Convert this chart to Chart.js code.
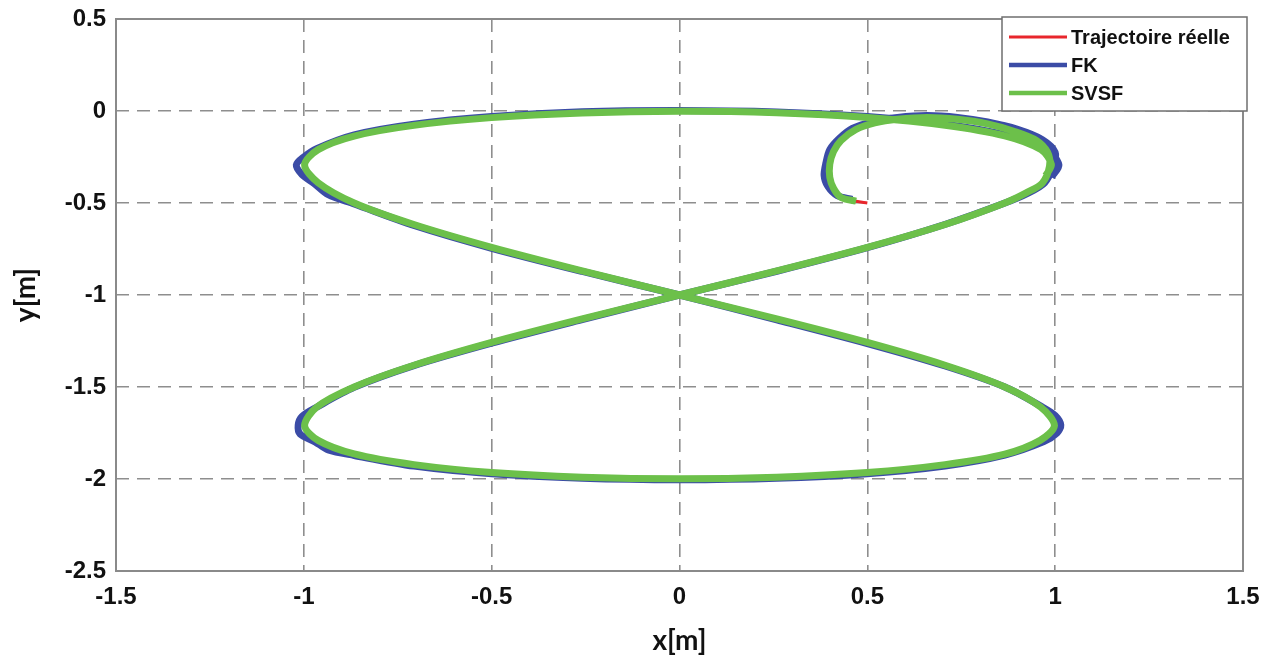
<!DOCTYPE html>
<html>
<head>
<meta charset="utf-8">
<title>Trajectoire en huit - FK / SVSF</title>
<script src="https://cdn.jsdelivr.net/npm/chart.js@4.4.1/dist/chart.umd.min.js"></script>
<style>
  html, body { margin: 0; padding: 0; background: #fff; }
  canvas { display: block; }
</style>
</head>
<body>
<canvas id="traj" width="1271" height="662"></canvas>
<script>
// séries et couleurs
const seriesNames = ["Trajectoire réelle", "FK", "SVSF"];
const seriesColors = ["#e8262c", "#3b4ca6", "#6cc04a"];

// graduations
const xTicks = [-1.5, -1, -0.5, 0, 0.5, 1, 1.5];
const xTickLabels = ["-1.5", "-1", "-0.5", "0", "0.5", "1", "1.5"];
const yTicks = [0.5, 0, -0.5, -1, -1.5, -2, -2.5];
const yTickLabels = ["0.5", "0", "-0.5", "-1", "-1.5", "-2", "-2.5"];

// trajectoire réelle [x, y]
const realPath = [
  [0.5, -0.5], [0.47, -0.49], [0.43, -0.47], [0.41, -0.42], [0.40, -0.36], [0.40, -0.29],
  [0.41, -0.22], [0.43, -0.16], [0.47, -0.10], [0.52, -0.065], [0.58, -0.045], [0.66, -0.035],
  [0.74, -0.045], [0.82, -0.07], [0.89, -0.11], [0.95, -0.16], [0.98, -0.225], [0.985, -0.30],
  [0.966, -0.391], [0.924, -0.444],
  [0.866, -0.5], [0.707, -0.617], [0.5, -0.741], [0.259, -0.869], [0, -1],
  [-0.259, -1.131], [-0.5, -1.259], [-0.707, -1.383], [-0.866, -1.5], [-0.966, -1.609],
  [-1, -1.707], [-0.966, -1.793], [-0.866, -1.866], [-0.707, -1.924], [-0.5, -1.966],
  [-0.259, -1.991], [0, -2], [0.259, -1.991], [0.5, -1.966], [0.707, -1.924],
  [0.866, -1.866], [0.966, -1.793], [1, -1.707], [0.966, -1.609], [0.866, -1.5],
  [0.707, -1.383], [0.5, -1.259], [0.259, -1.131], [0, -1], [-0.259, -0.869],
  [-0.5, -0.741], [-0.707, -0.617], [-0.866, -0.5], [-0.966, -0.391], [-1, -0.293],
  [-0.966, -0.207], [-0.866, -0.134], [-0.707, -0.076], [-0.5, -0.034], [-0.259, -0.009],
  [0, 0], [0.259, -0.009], [0.5, -0.034], [0.707, -0.076], [0.866, -0.134],
  [0.966, -0.207], [1, -0.293], [0.985, -0.36]
];

// estimation FK [x, y]
const fkPath = [
  [0.46, -0.48], [0.42, -0.46], [0.395, -0.41], [0.385, -0.35], [0.39, -0.28],
  [0.40, -0.21], [0.425, -0.15], [0.46, -0.095], [0.52, -0.055], [0.58, -0.035], [0.66, -0.025],
  [0.74, -0.035], [0.82, -0.06], [0.90, -0.10], [0.965, -0.155], [1.0, -0.225], [0.995, -0.30],
  [0.972, -0.39], [0.928, -0.446],
  [0.866, -0.5], [0.71, -0.614], [0.5, -0.743], [0.259, -0.871], [0, -1],
  [-0.259, -1.134], [-0.5, -1.262], [-0.707, -1.384], [-0.866, -1.502], [-0.966, -1.61],
  [-1.005, -1.66], [-1.015, -1.707], [-1.01, -1.755], [-0.97, -1.798], [-0.935, -1.842],
  [-0.866, -1.872], [-0.707, -1.93], [-0.5, -1.972], [-0.259, -1.996], [0, -2.004],
  [0.259, -1.996], [0.5, -1.971], [0.707, -1.929], [0.866, -1.87], [0.97, -1.797],
  [1.005, -1.75], [1.015, -1.707], [1.0, -1.655], [0.966, -1.609], [0.866, -1.5],
  [0.707, -1.386], [0.5, -1.264], [0.259, -1.135], [0, -1], [-0.259, -0.872],
  [-0.5, -0.746], [-0.707, -0.622], [-0.866, -0.505], [-0.935, -0.455], [-0.972, -0.395],
  [-1.005, -0.345], [-1.02, -0.293], [-1.0, -0.25], [-0.966, -0.205], [-0.866, -0.13],
  [-0.707, -0.072], [-0.5, -0.03], [-0.259, -0.004], [0, 0.003], [0.259, -0.005],
  [0.5, -0.03], [0.707, -0.072], [0.866, -0.13], [0.975, -0.205], [1.01, -0.293], [0.99, -0.36]
];

// estimation SVSF [x, y]
const svsfPath = [
  [0.47, -0.49], [0.43, -0.47], [0.41, -0.42], [0.40, -0.36], [0.40, -0.29],
  [0.41, -0.22], [0.43, -0.16], [0.47, -0.10], [0.52, -0.065], [0.58, -0.045], [0.66, -0.035],
  [0.74, -0.045], [0.82, -0.07], [0.89, -0.11], [0.95, -0.16], [0.98, -0.225], [0.985, -0.30],
  [0.966, -0.391], [0.924, -0.444],
  [0.866, -0.5], [0.707, -0.617], [0.5, -0.741], [0.259, -0.869], [0, -1],
  [-0.259, -1.13], [-0.5, -1.258], [-0.707, -1.382], [-0.866, -1.5], [-0.966, -1.61],
  [-0.998, -1.71], [-0.962, -1.79], [-0.866, -1.864], [-0.707, -1.922], [-0.5, -1.965],
  [-0.259, -1.99], [0, -1.999], [0.259, -1.99], [0.5, -1.965], [0.707, -1.922],
  [0.866, -1.865], [0.96, -1.79], [0.998, -1.71], [0.962, -1.61], [0.866, -1.5],
  [0.707, -1.382], [0.5, -1.258], [0.259, -1.13], [0, -1], [-0.259, -0.869],
  [-0.5, -0.741], [-0.707, -0.617], [-0.866, -0.5], [-0.962, -0.39], [-0.998, -0.293],
  [-0.962, -0.21], [-0.866, -0.136], [-0.707, -0.078], [-0.5, -0.036], [-0.259, -0.011],
  [0, -0.002], [0.259, -0.01], [0.5, -0.035], [0.707, -0.077], [0.866, -0.135],
  [0.962, -0.21], [0.99, -0.29], [0.975, -0.35]
];

const paths = [realPath, fkPath, svsfPath];
const widths = [3, 7, 7];

const tickFont = { family: '"Liberation Sans", Arial, sans-serif', size: 24, weight: 'bold' };
const titleFont = { family: 'Lato, "Open Sans", sans-serif', size: 28, weight: 'bold' };
const gridColor = '#8e8e8e';

// cadre plein autour de la zone de tracé
const frame = {
  id: 'frame',
  beforeDatasetsDraw(chart) {
    const a = chart.chartArea, ctx = chart.ctx;
    ctx.save();
    ctx.strokeStyle = '#8a8a8a';
    ctx.lineWidth = 2;
    ctx.strokeRect(a.left, a.top, a.right - a.left, a.bottom - a.top);
    ctx.restore();
  }
};

// légende encadrée en haut à droite
const legendBox = {
  id: 'legendBox',
  afterDraw(chart) {
    const ctx = chart.ctx;
    const x0 = 1002, y0 = 17, w = 245, h = 94;
    ctx.save();
    ctx.fillStyle = '#fff';
    ctx.fillRect(x0, y0, w, h);
    ctx.strokeStyle = '#6f6f6f';
    ctx.lineWidth = 1.5;
    ctx.strokeRect(x0, y0, w, h);
    ctx.font = 'bold 20px "Liberation Sans", Arial, sans-serif';
    ctx.textBaseline = 'middle';
    chart.data.datasets.forEach((ds, i) => {
      const y = y0 + 20 + i * 28;
      ctx.strokeStyle = ds.borderColor;
      ctx.lineWidth = i === 0 ? 3 : 4.5;
      ctx.beginPath();
      ctx.moveTo(x0 + 7, y);
      ctx.lineTo(x0 + 65, y);
      ctx.stroke();
      ctx.fillStyle = '#111';
      ctx.fillText(ds.label, x0 + 69, y + 1);
    });
    ctx.restore();
  }
};

const edgeless = (edges) => (c) =>
  (c.tick && edges.includes(c.tick.value)) ? 'rgba(0,0,0,0)' : gridColor;

new Chart(document.getElementById('traj'), {
  type: 'scatter',
  data: {
    datasets: paths.map((p, i) => ({
      label: seriesNames[i],
      data: p.map(([x, y]) => ({ x, y })),
      showLine: true,
      borderColor: seriesColors[i],
      backgroundColor: seriesColors[i],
      borderWidth: widths[i],
      pointRadius: 0,
      tension: 0.3,
      order: 3 - i
    }))
  },
  options: {
    responsive: false,
    animation: false,
    events: [],
    layout: { padding: { top: 19, right: 28, left: 0, bottom: 0 } },
    plugins: { legend: { display: false }, tooltip: { enabled: false } },
    scales: {
      x: {
        type: 'linear',
        min: -1.5, max: 1.5,
        afterBuildTicks: s => { s.ticks = xTicks.map(v => ({ value: v })); },
        afterFit: s => { s.height = 91; s.paddingLeft = 0; s.paddingRight = 0; },
        ticks: {
          padding: 12, color: '#111', font: tickFont,
          callback: v => xTickLabels[xTicks.indexOf(v)]
        },
        grid: { color: edgeless([-1.5, 1.5]), lineWidth: 1.6, drawTicks: false },
        border: { display: false, dash: [13, 8] },
        title: { display: true, text: 'x[m]', color: '#111', font: titleFont, padding: { top: 0, bottom: 4 } }
      },
      y: {
        type: 'linear',
        min: -2.5, max: 0.5,
        afterBuildTicks: s => { s.ticks = yTicks.map(v => ({ value: v })); },
        afterFit: s => { s.width = 116; s.paddingTop = 0; s.paddingBottom = 0; },
        ticks: {
          padding: 10, color: '#111', font: tickFont,
          callback: v => yTickLabels[yTicks.indexOf(v)]
        },
        grid: { color: edgeless([0.5, -2.5]), lineWidth: 1.6, drawTicks: false },
        border: { display: false, dash: [13, 8] },
        title: { display: true, text: 'y[m]', color: '#111', font: titleFont, padding: { top: 9, bottom: 0 } }
      }
    }
  },
  plugins: [frame, legendBox]
});
</script>
</body>
</html>
